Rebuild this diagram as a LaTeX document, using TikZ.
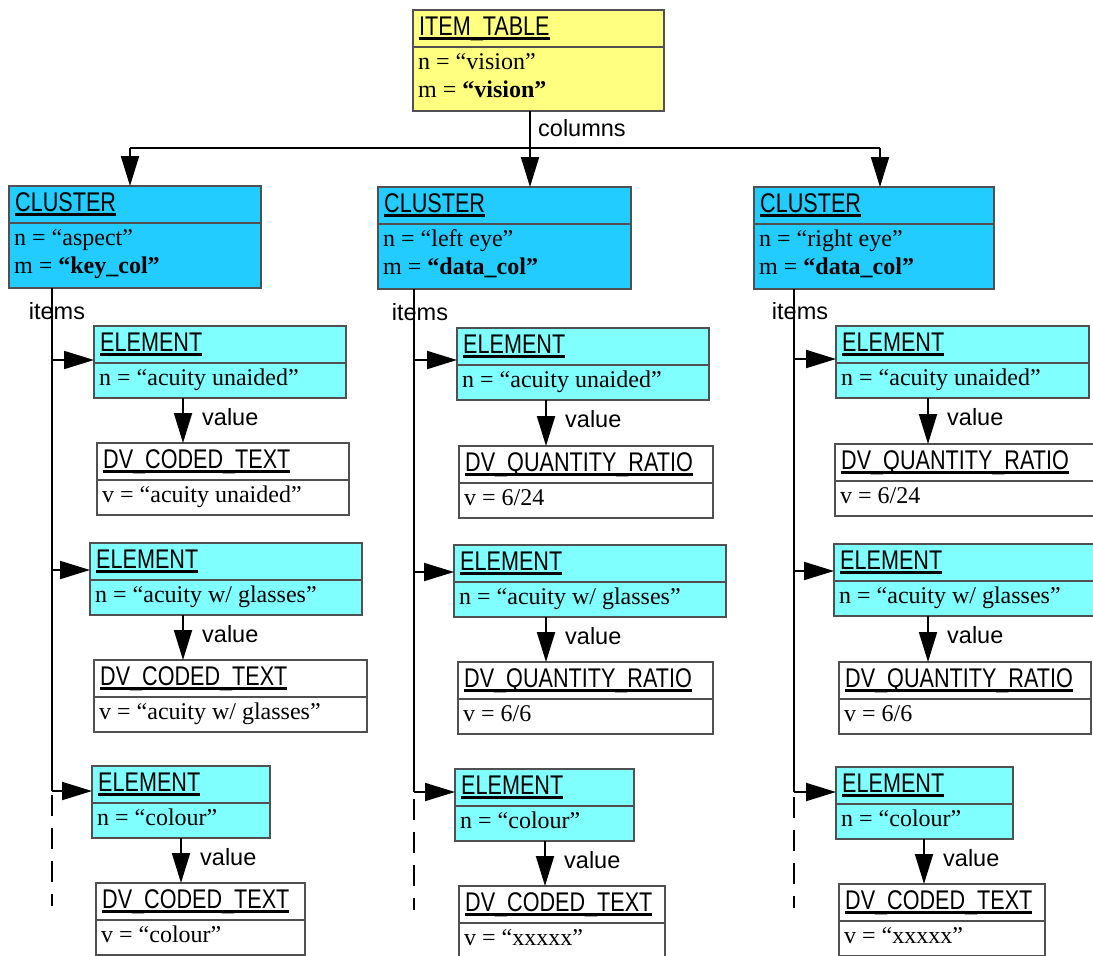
\documentclass[tikz,border=0pt]{standalone}
\usepackage{fontspec}
\setmainfont{Liberation Serif}
\newfontfamily\hdfont[FakeStretch=0.8]{Liberation Sans}
\newfontfamily\lblfont{Liberation Sans}
\usetikzlibrary{arrows.meta}
\definecolor{tableyellow}{RGB}{255,255,128}
\definecolor{clusterblue}{RGB}{34,204,255}
\definecolor{elemcyan}{RGB}{128,255,255}
\definecolor{boxline}{RGB}{80,80,80}
\tikzset{
  box/.style={draw=boxline, line width=1.3pt, rectangle, inner sep=0pt, outer sep=0pt},
  tablebox/.style={box, fill=tableyellow},
  clusterbox/.style={box, fill=clusterblue},
  elembox/.style={box, fill=elemcyan},
  valbox/.style={box, fill=white},
  divider/.style={draw=boxline, line width=1.3pt},
  headtext/.style={inner sep=0pt, font=\hdfont\fontsize{27}{30}\selectfont},
  bodytext/.style={inner sep=0pt, font=\fontsize{24}{28}\selectfont},
  lbl/.style={inner sep=0pt, font=\lblfont\fontsize{23.5}{28}\selectfont},
  link/.style={line width=2pt},
  flow/.style={link, -{Triangle[length=30pt,width=18pt]}},
  dashlink/.style={link, dash pattern=on 21pt off 12pt},
}
\newcommand{\hdul}[1]{\setbox0\hbox{#1}\rlap{\vrule width\wd0 height -2pt depth 4.6pt}\box0}
% name, style, north west corner, width, height, header, body lines
\newcommand{\umlbox}[7]{%
  \node[#2, anchor=north west, minimum width=#4pt, minimum height=#5pt] (#1) at #3 {};
  \draw[divider] ([yshift=-37pt]#1.north west) -- ([yshift=-37pt]#1.north east);
  \node[headtext, anchor=base west] (#1-h) at ([xshift=6pt,yshift=-25pt]#1.north west) {\hdul{#6}};
  \foreach \bodyline [count=\i] in {#7}
    \node[bodytext, anchor=base west] (#1-\i) at ([xshift=5pt,yshift={-59pt-28pt*(\i-1)}]#1.north west) {\bodyline};
}

\begin{document}
\begin{tikzpicture}[x=1pt,y=-1pt]
			%%%%% START %%%%%
			\useasboundingbox (0,0) rectangle (1093,956);
			\clip (0,0) rectangle (1093,956);
			
			\umlbox{it}{tablebox}{(413,10)}{251}{101}{ITEM\_TABLE}{n = “vision”, m = \textbf{“vision”}}
			
			\umlbox{c1}{clusterbox}{(9,186)}{252}{102}{CLUSTER}{n = “aspect”, m = \textbf{“key\_col”}}
			\umlbox{c2}{clusterbox}{(378,187)}{253}{102}{CLUSTER}{n = “left eye”, m = \textbf{“data\_col”}}
			\umlbox{c3}{clusterbox}{(754,187)}{240}{102}{CLUSTER}{n = “right eye”, m = \textbf{“data\_col”}}
			
			\coordinate (j1) at (130,148);
			\coordinate (j2) at (530,148);
			\coordinate (j3) at (880,148);
			\draw[link] (it.south -| j2) -- (j2);
			\draw[link] (j1) -- (j3);
			\draw[flow] (j1) -- (j1 |- c1.north);
			\draw[flow] (j2) -- (j2 |- c2.north);
			\draw[flow] (j3) -- (j3 |- c3.north);
			\node[lbl, anchor=west] (lcols) at (538,128) {columns};
			
			% left column
			\umlbox{e11}{elembox}{(94,326)}{252}{72}{ELEMENT}{n = “acuity unaided”}
			\umlbox{dv11}{valbox}{(97,443)}{252}{72}{DV\_CODED\_TEXT}{v = “acuity unaided”}
			\umlbox{e12}{elembox}{(90,543)}{272}{72}{ELEMENT}{n = “acuity w/ glasses”}
			\umlbox{dv12}{valbox}{(94,660)}{273}{72}{DV\_CODED\_TEXT}{v = “acuity w/ glasses”}
			\umlbox{e13}{elembox}{(92,766)}{178}{72}{ELEMENT}{n = “colour”}
			\umlbox{dv13}{valbox}{(96,883)}{209}{72}{DV\_CODED\_TEXT}{v = “colour”}
			
			% middle column
			\umlbox{e21}{elembox}{(457,328)}{252}{72}{ELEMENT}{n = “acuity unaided”}
			\umlbox{dv21}{valbox}{(459,446)}{254}{72}{DV\_QUANTITY\_RATIO}{v = 6/24}
			\umlbox{e22}{elembox}{(454,545)}{272}{72}{ELEMENT}{n = “acuity w/ glasses”}
			\umlbox{dv22}{valbox}{(458,662)}{255}{72}{DV\_QUANTITY\_RATIO}{v = 6/6}
			\umlbox{e23}{elembox}{(455,769)}{179}{72}{ELEMENT}{n = “colour”}
			\umlbox{dv23}{valbox}{(459,886)}{206}{72}{DV\_CODED\_TEXT}{v = “xxxxx”}
			
			% right column
			\umlbox{e31}{elembox}{(836,326)}{253}{72}{ELEMENT}{n = “acuity unaided”}
			\umlbox{dv31}{valbox}{(835,444)}{270}{72}{DV\_QUANTITY\_RATIO}{v = 6/24}
			\umlbox{e32}{elembox}{(834,544)}{265}{72}{ELEMENT}{n = “acuity w/ glasses”}
			\umlbox{dv32}{valbox}{(839,662)}{252}{72}{DV\_QUANTITY\_RATIO}{v = 6/6}
			\umlbox{e33}{elembox}{(836,767)}{177}{72}{ELEMENT}{n = “colour”}
			\umlbox{dv33}{valbox}{(839,884)}{206}{72}{DV\_CODED\_TEXT}{v = “xxxxx”}
			
			% items lines
			\node[lbl] (li1) at (57,311) {items};
			\node[lbl] (li2) at (420,312) {items};
			\node[lbl] (li3) at (800,311) {items};
			\coordinate (i1) at (52,0);
			\coordinate (i2) at (414,0);
			\coordinate (i3) at (794,0);
			
			\coordinate (a11) at ([yshift=-34pt]e11.north west);
			\coordinate (a12) at ([yshift=-27pt]e12.north west);
			\coordinate (a13) at ([yshift=-25pt]e13.north west);
			\coordinate (a21) at ([yshift=-32pt]e21.north west);
			\coordinate (a22) at ([yshift=-27pt]e22.north west);
			\coordinate (a23) at ([yshift=-23pt]e23.north west);
			\coordinate (a31) at ([yshift=-33pt]e31.north west);
			\coordinate (a32) at ([yshift=-27pt]e32.north west);
			\coordinate (a33) at ([yshift=-25pt]e33.north west);
			
			\draw[link] (c1.south -| i1) -- (a13 -| i1);
			\draw[link] (c2.south -| i2) -- (a23 -| i2);
			\draw[link] (c3.south -| i3) -- (a33 -| i3);
			\draw[dashlink] (52,795) -- (52,906);
			\draw[dashlink] (414,799) -- (414,910);
			\draw[dashlink] (794,797) -- (794,908);
			
			\draw[flow] (a11 -| i1) -- (a11);
			\draw[flow] (a12 -| i1) -- (a12);
			\draw[flow] (a13 -| i1) -- (a13);
			\draw[flow] (a21 -| i2) -- (a21);
			\draw[flow] (a22 -| i2) -- (a22);
			\draw[flow] (a23 -| i2) -- (a23);
			\draw[flow] (a31 -| i3) -- (a31);
			\draw[flow] (a32 -| i3) -- (a32);
			\draw[flow] (a33 -| i3) -- (a33);
			
			% value arrows
			\coordinate (v11) at ([xshift=89pt]e11.south west);
			\coordinate (v12) at ([xshift=93pt]e12.south west);
			\coordinate (v13) at ([xshift=89pt]e13.south west);
			\coordinate (v21) at ([xshift=89pt]e21.south west);
			\coordinate (v22) at ([xshift=92pt]e22.south west);
			\coordinate (v23) at ([xshift=90pt]e23.south west);
			\coordinate (v31) at ([xshift=92pt]e31.south west);
			\coordinate (v32) at ([xshift=94pt]e32.south west);
			\coordinate (v33) at ([xshift=88pt]e33.south west);
			
			\draw[flow] (v11) -- (v11 |- dv11.north);
			\draw[flow] (v12) -- (v12 |- dv12.north);
			\draw[flow] (v13) -- (v13 |- dv13.north);
			\draw[flow] (v21) -- (v21 |- dv21.north);
			\draw[flow] (v22) -- (v22 |- dv22.north);
			\draw[flow] (v23) -- (v23 |- dv23.north);
			\draw[flow] (v31) -- (v31 |- dv31.north);
			\draw[flow] (v32) -- (v32 |- dv32.north);
			\draw[flow] (v33) -- (v33 |- dv33.north);
			
			\node[lbl, anchor=west] (lv11) at ([xshift=19pt,yshift=-19pt]v11) {value};
			\node[lbl, anchor=west] (lv12) at ([xshift=19pt,yshift=-19pt]v12) {value};
			\node[lbl, anchor=west] (lv13) at ([xshift=19pt,yshift=-19pt]v13) {value};
			\node[lbl, anchor=west] (lv21) at ([xshift=19pt,yshift=-19pt]v21) {value};
			\node[lbl, anchor=west] (lv22) at ([xshift=19pt,yshift=-19pt]v22) {value};
			\node[lbl, anchor=west] (lv23) at ([xshift=19pt,yshift=-19pt]v23) {value};
			\node[lbl, anchor=west] (lv31) at ([xshift=19pt,yshift=-19pt]v31) {value};
			\node[lbl, anchor=west] (lv32) at ([xshift=19pt,yshift=-19pt]v32) {value};
			\node[lbl, anchor=west] (lv33) at ([xshift=19pt,yshift=-19pt]v33) {value};
			
			%%%%% END %%%%%
\end{tikzpicture}
\end{document}
